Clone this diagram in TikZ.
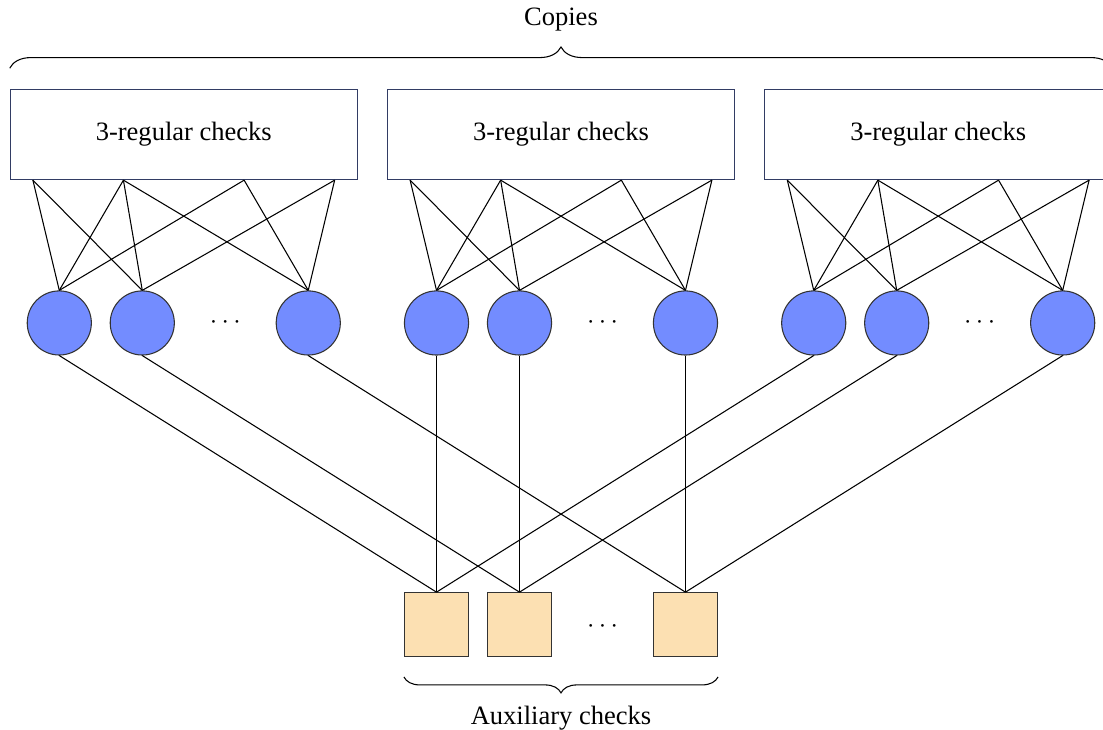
\documentclass[tikz,border=0pt]{standalone}
\usepackage{fontspec}
\setmainfont{Liberation Serif}
\usetikzlibrary{decorations.pathreplacing}
\definecolor{varblue}{RGB}{115,140,255}
\definecolor{auxorange}{RGB}{252,224,178}
\definecolor{boxline}{RGB}{50,60,100}
\tikzset{check_block/.style={draw=boxline, minimum width=4.6cm, minimum height=1.2cm, inner sep=0pt}}
\tikzset{var_node/.style={circle, draw=black!80, fill=varblue, minimum size=0.85cm, inner sep=0pt}}
\tikzset{aux_node/.style={rectangle, draw=black!80, fill=auxorange, minimum size=0.85cm, inner sep=0pt}}
\tikzset{brace_line/.style={decorate, decoration={brace, amplitude=#1}}}

\begin{document}
\begin{tikzpicture}
    \useasboundingbox (-7.436,-5.382) rectangle (7.184,4.281);
    \foreach \g in {1,2,3}{
      \node[check_block] (c\g) at ({(\g-2)*5},2.5) {3-regular checks};
      \foreach \k/\dx in {1/-1.65,2/-0.55,3/1.65}
        \node[var_node] (v\g\k) at ({(\g-2)*5+\dx},0) {};
      \node (d\g) at ({(\g-2)*5+0.55},0.01) {$\cdots$};
      \foreach \j/\dx in {1/-2,2/-0.8,3/0.8,4/2}
        \coordinate (p\g\j) at ([xshift=\dx cm]c\g.south);
      \foreach \j/\k in {1/1,1/2,2/1,2/2,2/3,3/1,3/3,4/2,4/3}
        \draw (p\g\j) -- (v\g\k.north);
    }
    \foreach \k/\x in {1/-1.65,2/-0.55,3/1.65}
      \node[aux_node] (a\k) at (\x,-4) {};
    \node (da) at (0.55,-4.02) {$\cdots$};
    \foreach \g in {1,2,3}
      \foreach \k in {1,2,3}
        \draw (v\g\k.south) -- (a\k.north);
    % braces
    \draw[brace_line=8pt] ([yshift=0.27cm]c1.north west) -- ([yshift=0.27cm]c3.north east);
    \node (copies) at (0,4.02) {Copies};
    \draw[brace_line=6pt] ([yshift=-0.26cm]a3.south east) -- ([yshift=-0.26cm]a1.south west);
    \node (aux) at (0,-5.24) {Auxiliary checks};
\end{tikzpicture}
\end{document}
